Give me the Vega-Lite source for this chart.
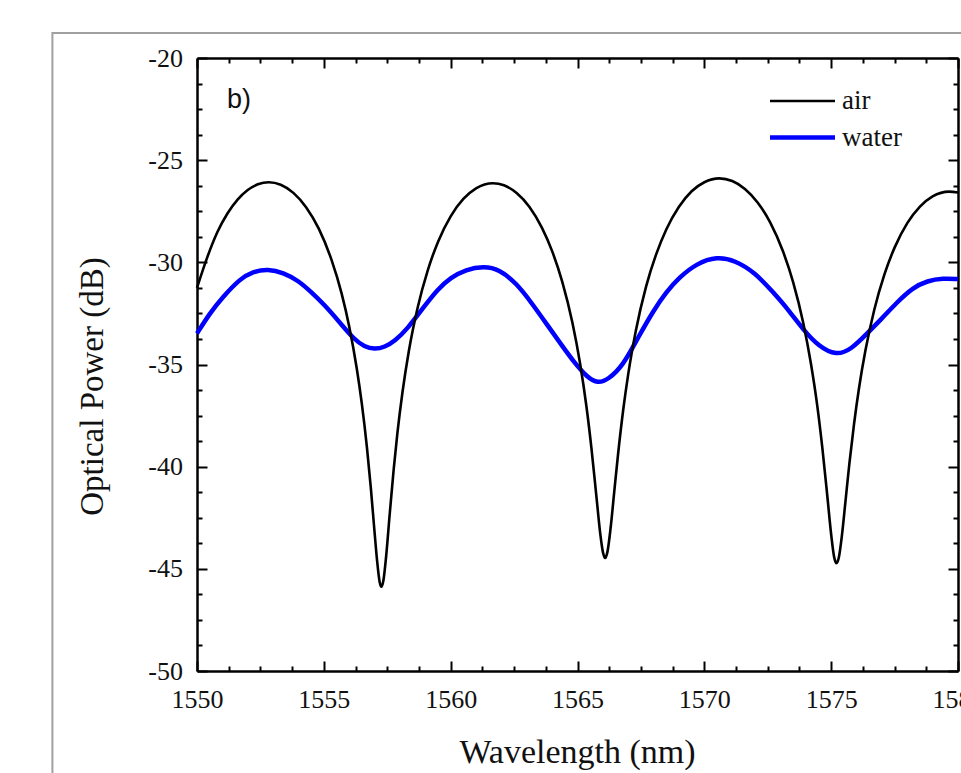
{
  "$schema": "https://vega.github.io/schema/vega-lite/v6.json",
  "autosize": {"type": "none"},
  "padding": {"left": 197, "top": 58, "right": 3, "bottom": 102},
  "width": 761,
  "height": 613,
  "background": "white",
  "config": {
    "view": {"stroke": null},
    "axis": {"grid": false, "domainColor": "#000000", "tickColor": "#000000", "tickWidth": 2, "domainWidth": 2.5, "labelFlush": false, "labelOverlap": false, "zindex": 1},
    "legend": {"orient": "none", "legendX": 587, "legendY": 25, "title": null, "symbolType": "M-2,0H2", "symbolSize": 1056, "rowPadding": 5, "labelFont": "Liberation Serif", "labelFontSize": 27, "labelColor": "#111111", "labelOffset": 21, "padding": 0}
  },
  "data": {"values": [
    {"s":"air","wl":1550.0,"p":-31.25},{"s":"air","wl":1550.4,"p":-29.77},{"s":"air","wl":1550.8,"p":-28.53},{"s":"air","wl":1551.2,"p":-27.61},{"s":"air","wl":1551.6,"p":-26.93},{"s":"air","wl":1552.0,"p":-26.46},{"s":"air","wl":1552.4,"p":-26.18},{"s":"air","wl":1552.83,"p":-26.08},{"s":"air","wl":1553.3,"p":-26.20},{"s":"air","wl":1553.8,"p":-26.60},{"s":"air","wl":1554.3,"p":-27.30},{"s":"air","wl":1554.8,"p":-28.35},{"s":"air","wl":1555.3,"p":-29.87},{"s":"air","wl":1555.7,"p":-31.52},{"s":"air","wl":1556.0,"p":-33.14},{"s":"air","wl":1556.3,"p":-35.21},{"s":"air","wl":1556.5,"p":-36.94},{"s":"air","wl":1556.7,"p":-39.07},{"s":"air","wl":1556.85,"p":-41.00},{"s":"air","wl":1557.0,"p":-43.21},{"s":"air","wl":1557.1,"p":-44.61},{"s":"air","wl":1557.2,"p":-45.64},{"s":"air","wl":1557.27,"p":-45.88},{"s":"air","wl":1557.35,"p":-45.56},{"s":"air","wl":1557.45,"p":-44.47},{"s":"air","wl":1557.6,"p":-42.28},{"s":"air","wl":1557.75,"p":-40.18},{"s":"air","wl":1557.9,"p":-38.36},{"s":"air","wl":1558.1,"p":-36.36},{"s":"air","wl":1558.35,"p":-34.35},{"s":"air","wl":1558.7,"p":-32.21},{"s":"air","wl":1559.1,"p":-30.38},{"s":"air","wl":1559.5,"p":-29.00},{"s":"air","wl":1560.0,"p":-27.75},{"s":"air","wl":1560.5,"p":-26.90},{"s":"air","wl":1561.0,"p":-26.38},{"s":"air","wl":1561.67,"p":-26.13},{"s":"air","wl":1562.1,"p":-26.23},{"s":"air","wl":1562.6,"p":-26.61},{"s":"air","wl":1563.1,"p":-27.28},{"s":"air","wl":1563.6,"p":-28.31},{"s":"air","wl":1564.0,"p":-29.45},{"s":"air","wl":1564.4,"p":-30.96},{"s":"air","wl":1564.8,"p":-32.96},{"s":"air","wl":1565.1,"p":-34.94},{"s":"air","wl":1565.35,"p":-37.03},{"s":"air","wl":1565.55,"p":-39.10},{"s":"air","wl":1565.75,"p":-41.51},{"s":"air","wl":1565.9,"p":-43.31},{"s":"air","wl":1566.0,"p":-44.17},{"s":"air","wl":1566.09,"p":-44.47},{"s":"air","wl":1566.18,"p":-44.17},{"s":"air","wl":1566.3,"p":-43.06},{"s":"air","wl":1566.45,"p":-41.21},{"s":"air","wl":1566.6,"p":-39.38},{"s":"air","wl":1566.8,"p":-37.24},{"s":"air","wl":1567.0,"p":-35.47},{"s":"air","wl":1567.3,"p":-33.35},{"s":"air","wl":1567.7,"p":-31.20},{"s":"air","wl":1568.1,"p":-29.61},{"s":"air","wl":1568.5,"p":-28.39},{"s":"air","wl":1569.0,"p":-27.28},{"s":"air","wl":1569.5,"p":-26.52},{"s":"air","wl":1570.0,"p":-26.08},{"s":"air","wl":1570.59,"p":-25.89},{"s":"air","wl":1571.1,"p":-26.02},{"s":"air","wl":1571.6,"p":-26.41},{"s":"air","wl":1572.1,"p":-27.07},{"s":"air","wl":1572.6,"p":-28.06},{"s":"air","wl":1573.1,"p":-29.46},{"s":"air","wl":1573.5,"p":-30.97},{"s":"air","wl":1573.9,"p":-32.97},{"s":"air","wl":1574.2,"p":-34.94},{"s":"air","wl":1574.45,"p":-37.00},{"s":"air","wl":1574.65,"p":-39.06},{"s":"air","wl":1574.85,"p":-41.46},{"s":"air","wl":1575.0,"p":-43.32},{"s":"air","wl":1575.12,"p":-44.44},{"s":"air","wl":1575.21,"p":-44.73},{"s":"air","wl":1575.3,"p":-44.46},{"s":"air","wl":1575.42,"p":-43.41},{"s":"air","wl":1575.57,"p":-41.62},{"s":"air","wl":1575.72,"p":-39.83},{"s":"air","wl":1575.9,"p":-37.93},{"s":"air","wl":1576.1,"p":-36.14},{"s":"air","wl":1576.35,"p":-34.32},{"s":"air","wl":1576.7,"p":-32.32},{"s":"air","wl":1577.1,"p":-30.59},{"s":"air","wl":1577.5,"p":-29.28},{"s":"air","wl":1578.0,"p":-28.08},{"s":"air","wl":1578.5,"p":-27.27},{"s":"air","wl":1579.0,"p":-26.77},{"s":"air","wl":1579.65,"p":-26.54},{"s":"air","wl":1580.0,"p":-26.58},
    {"s":"water","wl":1550.0,"p":-33.48},{"s":"water","wl":1550.5,"p":-32.50},{"s":"water","wl":1551.0,"p":-31.72},{"s":"water","wl":1551.7,"p":-30.80},{"s":"water","wl":1552.2,"p":-30.45},{"s":"water","wl":1552.8,"p":-30.33},{"s":"water","wl":1553.4,"p":-30.50},{"s":"water","wl":1554.0,"p":-30.90},{"s":"water","wl":1554.5,"p":-31.45},{"s":"water","wl":1555.0,"p":-32.05},{"s":"water","wl":1555.6,"p":-32.90},{"s":"water","wl":1556.2,"p":-33.78},{"s":"water","wl":1556.6,"p":-34.13},{"s":"water","wl":1557.0,"p":-34.26},{"s":"water","wl":1557.4,"p":-34.15},{"s":"water","wl":1557.8,"p":-33.85},{"s":"water","wl":1558.3,"p":-33.25},{"s":"water","wl":1558.9,"p":-32.25},{"s":"water","wl":1559.5,"p":-31.30},{"s":"water","wl":1560.0,"p":-30.75},{"s":"water","wl":1560.6,"p":-30.35},{"s":"water","wl":1561.3,"p":-30.20},{"s":"water","wl":1561.9,"p":-30.33},{"s":"water","wl":1562.6,"p":-31.03},{"s":"water","wl":1563.2,"p":-32.00},{"s":"water","wl":1563.8,"p":-33.05},{"s":"water","wl":1564.4,"p":-34.10},{"s":"water","wl":1564.9,"p":-34.95},{"s":"water","wl":1565.4,"p":-35.65},{"s":"water","wl":1565.8,"p":-35.92},{"s":"water","wl":1566.2,"p":-35.75},{"s":"water","wl":1566.8,"p":-35.05},{"s":"water","wl":1567.4,"p":-33.65},{"s":"water","wl":1568.0,"p":-32.35},{"s":"water","wl":1568.5,"p":-31.45},{"s":"water","wl":1569.0,"p":-30.75},{"s":"water","wl":1569.7,"p":-30.05},{"s":"water","wl":1570.5,"p":-29.72},{"s":"water","wl":1571.2,"p":-29.90},{"s":"water","wl":1572.0,"p":-30.50},{"s":"water","wl":1572.7,"p":-31.45},{"s":"water","wl":1573.3,"p":-32.30},{"s":"water","wl":1573.9,"p":-33.30},{"s":"water","wl":1574.5,"p":-34.10},{"s":"water","wl":1575.2,"p":-34.57},{"s":"water","wl":1575.8,"p":-34.25},{"s":"water","wl":1576.4,"p":-33.50},{"s":"water","wl":1577.0,"p":-32.75},{"s":"water","wl":1577.6,"p":-31.95},{"s":"water","wl":1578.2,"p":-31.25},{"s":"water","wl":1578.8,"p":-30.90},{"s":"water","wl":1579.4,"p":-30.78},{"s":"water","wl":1580.0,"p":-30.82}
  ]},
  "layer": [
    {
      "data": {"values": [{}]},
      "mark": {"type": "rect", "fillOpacity": 0, "stroke": "#a0a0a0", "strokeWidth": 2},
      "encoding": {
        "x": {"datum": 1544.3, "type": "quantitative", "scale": {"domain": [1550, 1580], "nice": false, "zero": false},
              "axis": {"orient": "top", "values": [1551.25,1552.5,1553.75,1556.25,1557.5,1558.75,1561.25,1562.5,1563.75,1566.25,1567.5,1568.75,1571.25,1572.5,1573.75,1576.25,1577.5,1578.75], "tickSize": -5, "labels": false, "domain": false, "title": null}},
        "x2": {"datum": 1592},
        "y": {"datum": -18.78, "type": "quantitative", "scale": {"domain": [-50, -20], "nice": false, "zero": false},
              "axis": {"orient": "right", "values": [-21.25,-22.5,-23.75,-26.25,-27.5,-28.75,-31.25,-32.5,-33.75,-36.25,-37.5,-38.75,-41.25,-42.5,-43.75,-46.25,-47.5,-48.75], "tickSize": -5, "labels": false, "domain": false, "title": null}},
        "y2": {"datum": -62}
      }
    },
    {
      "data": {"values": [{"t": "b)"}]},
      "mark": {"type": "text", "align": "left", "baseline": "alphabetic", "font": "Liberation Sans", "fontSize": 27, "color": "#111111"},
      "encoding": {
        "text": {"field": "t"},
        "x": {"datum": 1551.18, "type": "quantitative", "scale": {"domain": [1550, 1580], "nice": false, "zero": false},
              "axis": {"orient": "top", "values": [1550,1555,1560,1565,1570,1575,1580], "tickSize": -10, "labels": false, "domain": true, "title": null}},
        "y": {"datum": -22.45, "type": "quantitative", "scale": {"domain": [-50, -20], "nice": false, "zero": false},
              "axis": {"orient": "right", "values": [-50,-45,-40,-35,-30,-25,-20], "tickSize": -10, "labels": false, "domain": true, "title": null}}
      }
    },
    {
      "transform": [{"filter": "datum.s === 'water'"}],
      "mark": {"type": "line", "interpolate": "basis"},
      "encoding": {
        "x": {"field": "wl", "type": "quantitative", "scale": {"domain": [1550, 1580], "nice": false, "zero": false},
              "axis": {"orient": "bottom", "values": [1551.25,1552.5,1553.75,1556.25,1557.5,1558.75,1561.25,1562.5,1563.75,1566.25,1567.5,1568.75,1571.25,1572.5,1573.75,1576.25,1577.5,1578.75], "tickSize": -5, "labels": false, "domain": false, "title": null}},
        "y": {"field": "p", "type": "quantitative", "scale": {"domain": [-50, -20], "nice": false, "zero": false},
              "axis": {"orient": "left", "values": [-21.25,-22.5,-23.75,-26.25,-27.5,-28.75,-31.25,-32.5,-33.75,-36.25,-37.5,-38.75,-41.25,-42.5,-43.75,-46.25,-47.5,-48.75], "tickSize": -5, "labels": false, "domain": false, "title": null}},
        "color": {"field": "s", "type": "nominal", "scale": {"domain": ["air", "water"], "range": ["#000000", "#0000ff"]}},
        "strokeWidth": {"field": "s", "type": "nominal", "scale": {"domain": ["air", "water"], "range": [2.6, 4.5]}}
      }
    },
    {
      "transform": [{"filter": "datum.s === 'air'"}],
      "mark": {"type": "line", "interpolate": "monotone"},
      "encoding": {
        "x": {"field": "wl", "type": "quantitative", "scale": {"domain": [1550, 1580], "nice": false, "zero": false},
              "axis": {"orient": "bottom", "values": [1550,1555,1560,1565,1570,1575,1580], "tickSize": -10, "domain": true,
                       "labelFont": "Liberation Serif", "labelFontSize": 26, "labelColor": "#111111", "labelBaseline": "alphabetic", "labelPadding": 46, "labelExpr": "'' + datum.value",
                       "title": "Wavelength (nm)", "titleFont": "Liberation Serif", "titleFontSize": 34, "titleFontWeight": "normal", "titleColor": "#111111", "titleX": 380, "titleY": 91, "titleBaseline": "alphabetic", "titleAlign": "center"}},
        "y": {"field": "p", "type": "quantitative", "scale": {"domain": [-50, -20], "nice": false, "zero": false},
              "axis": {"orient": "left", "values": [-50,-45,-40,-35,-30,-25,-20], "tickSize": -10, "domain": true,
                       "labelFont": "Liberation Serif", "labelFontSize": 26, "labelColor": "#111111", "labelBaseline": "middle", "labelPadding": 24.5, "labelExpr": "'' + datum.value",
                       "title": "Optical Power (dB)", "titleFont": "Liberation Serif", "titleFontSize": 33, "titleFontWeight": "normal", "titleColor": "#111111", "titleX": -95, "titleY": 328, "titleAngle": -90, "titleBaseline": "alphabetic", "titleAlign": "center"}},
        "color": {"field": "s", "type": "nominal", "scale": {"domain": ["air", "water"], "range": ["#000000", "#0000ff"]}},
        "strokeWidth": {"field": "s", "type": "nominal", "scale": {"domain": ["air", "water"], "range": [2.6, 4.5]}}
      }
    }
  ],
  "resolve": {"axis": {"x": "independent", "y": "independent"}}
}
